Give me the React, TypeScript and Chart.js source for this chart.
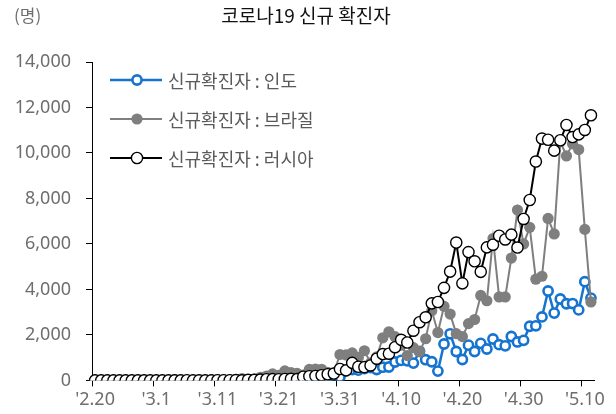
import React, { useEffect, useRef } from 'react';
import { Chart, registerables } from 'chart.js';

Chart.register(...registerables);

const TITLE = '코로나19 신규 확진자';
const UNIT = '(명)';

const DATES = (
  '2.20 2.21 2.22 2.23 2.24 2.25 2.26 2.27 2.28 2.29 ' +
  '3.1 3.2 3.3 3.4 3.5 3.6 3.7 3.8 3.9 3.10 3.11 3.12 3.13 3.14 3.15 3.16 3.17 3.18 3.19 3.20 ' +
  '3.21 3.22 3.23 3.24 3.25 3.26 3.27 3.28 3.29 3.30 3.31 ' +
  '4.1 4.2 4.3 4.4 4.5 4.6 4.7 4.8 4.9 4.10 4.11 4.12 4.13 4.14 4.15 4.16 4.17 4.18 4.19 4.20 ' +
  '4.21 4.22 4.23 4.24 4.25 4.26 4.27 4.28 4.29 4.30 ' +
  '5.1 5.2 5.3 5.4 5.5 5.6 5.7 5.8 5.9 5.10 5.11'
).split(' ');

const SERIES_NAMES = ['신규확진자 : 인도', '신규확진자 : 브라질', '신규확진자 : 러시아'];

const INDIA = [
  0, 0, 0, 0, 0, 0, 0, 0, 0, 0,
  0, 2, 1, 22, 2, 1, 3, 5, 4, 1, 20, 11, 9, 20, 11, 6, 23, 14, 38, 50,
  86, 66, 103, 37, 121, 70, 160, 100, 112, 227, 146,
  430, 480, 450, 520, 560, 480, 580, 590, 810, 880, 860, 760, 1280, 910, 820, 410, 1600, 2050, 1270, 920,
  1550, 1270, 1630, 1380, 1820, 1570, 1520, 1930, 1690, 1760,
  2380, 2400, 2790, 3930, 2960, 3580, 3370, 3380, 3100, 4340, 3620,
];

const BRAZIL = [
  0, 0, 0, 0, 0, 0, 1, 0, 0, 0,
  0, 1, 0, 1, 4, 5, 6, 6, 5, 9, 18, 25, 21, 23, 79, 34, 57, 137, 193, 283,
  224, 418, 345, 310, 232, 482, 502, 487, 352, 323, 1138,
  1119, 1208, 1012, 1304, 770, 1031, 1873, 2136, 1922, 1546, 1089, 1442, 1261, 1832, 3058, 2105, 3257, 2917, 2055, 1927,
  2498, 2678, 3735, 3503, 6240, 3670, 3670, 5380, 7490, 6000,
  6730, 4450, 4580, 7120, 6440, 10500, 9870, 10400, 10150, 6640, 3450,
];

const RUSSIA = [
  0, 0, 0, 0, 0, 0, 0, 0, 0, 0,
  0, 1, 0, 0, 1, 6, 0, 3, 0, 3, 8, 6, 6, 14, 4, 27, 24, 33, 52, 54,
  53, 61, 71, 57, 163, 182, 196, 228, 270, 302, 501,
  440, 771, 601, 582, 658, 954, 1154, 1175, 1459, 1786, 1667, 2186, 2558, 2774, 3388, 3448, 4070, 4785, 6060, 4268,
  5642, 5236, 4774, 5849, 5966, 6361, 6198, 6411, 5841, 7099,
  7933, 9623, 10633, 10581, 10102, 10559, 11231, 10699, 10817, 11012, 11656,
];

const Y_MIN = 0;
const Y_MAX = 14000;
const Y_STEP = 2000;
const X_LABEL_EVERY = 10;

const BLUE = '#1574d0';
const GREY = '#7f7f7f';
const BLACK = '#000000';
const TICK_COLOR = '#6e6e6e';
const FONT_KR = '"Noto Sans CJK KR", "Noto Sans", sans-serif';
const FONT_NUM = '"Noto Sans", "Noto Sans CJK KR", sans-serif';

const overlayPlugin = {
  id: 'overlay',
  afterDraw(chart: any) {
    const ctx = chart.ctx as CanvasRenderingContext2D;
    ctx.save();
    // title
    ctx.fillStyle = '#111111';
    ctx.font = `19px ${FONT_KR}`;
    ctx.textAlign = 'center';
    ctx.textBaseline = 'middle';
    ctx.fillText(TITLE, 306, 16);
    // unit
    ctx.fillStyle = '#6e6e6e';
    ctx.font = `17px ${FONT_KR}`;
    ctx.textAlign = 'left';
    ctx.fillText(UNIT, 14, 16);
    // legend
    const rows = [80, 119, 158];
    chart.data.datasets.forEach((ds: any, i: number) => {
      const y = rows[i];
      ctx.strokeStyle = ds.borderColor;
      ctx.lineWidth = ds.borderWidth;
      ctx.beginPath();
      ctx.moveTo(110, y);
      ctx.lineTo(162, y);
      ctx.stroke();
      ctx.beginPath();
      ctx.arc(137, y, ds.pointRadius, 0, Math.PI * 2);
      ctx.fillStyle = ds.pointBackgroundColor;
      ctx.fill();
      if (ds.pointBorderWidth > 0) {
        ctx.lineWidth = ds.pointBorderWidth;
        ctx.strokeStyle = ds.pointBorderColor;
        ctx.stroke();
      }
      ctx.fillStyle = '#5a5a5a';
      ctx.font = `18px ${FONT_KR}`;
      ctx.textAlign = 'left';
      ctx.textBaseline = 'middle';
      ctx.fillText(ds.label, 168, y + 1);
    });
    ctx.restore();
  },
};

export default function App() {
  const ref = useRef<HTMLCanvasElement>(null);
  useEffect(() => {
    const chart = new Chart(ref.current as HTMLCanvasElement, {
      type: 'line',
      data: {
        labels: DATES,
        datasets: [
          {
            label: SERIES_NAMES[0],
            data: INDIA,
            borderColor: BLUE,
            borderWidth: 2.5,
            pointRadius: 4.6,
            pointBackgroundColor: '#ffffff',
            pointBorderColor: BLUE,
            pointBorderWidth: 2.6,
            order: 3,
          },
          {
            label: SERIES_NAMES[1],
            data: BRAZIL,
            borderColor: GREY,
            borderWidth: 2,
            pointRadius: 5.6,
            pointBackgroundColor: GREY,
            pointBorderColor: GREY,
            pointBorderWidth: 0,
            order: 2,
          },
          {
            label: SERIES_NAMES[2],
            data: RUSSIA,
            borderColor: BLACK,
            borderWidth: 2,
            pointRadius: 5.6,
            pointBackgroundColor: '#ffffff',
            pointBorderColor: BLACK,
            pointBorderWidth: 1.4,
            order: 1,
          },
        ] as any,
      },
      options: {
        animation: false,
        responsive: false,
        maintainAspectRatio: false,
        layout: { padding: { top: 62, right: 22, left: 0, bottom: 0 } },
        plugins: {
          legend: { display: false },
          title: { display: false },
          tooltip: { enabled: false },
        },
        scales: {
          x: {
            type: 'category',
            offset: true,
            grid: {
              offset: true,
              drawOnChartArea: false,
              tickLength: 6,
              tickColor: (c: any) => (c.index % X_LABEL_EVERY === 0 ? '#000' : 'rgba(0,0,0,0)'),
            },
            border: { color: '#000', width: 1 },
            ticks: {
              autoSkip: false,
              maxRotation: 0,
              minRotation: 0,
              padding: 3,
              color: TICK_COLOR,
              font: { family: FONT_NUM, size: 18 },
              callback: (_v: any, i: number) => (i % X_LABEL_EVERY === 0 ? "'" + DATES[i] : ''),
            },
          },
          y: {
            min: Y_MIN,
            max: Y_MAX,
            grid: { drawOnChartArea: false, tickLength: 6, tickColor: '#000' },
            border: { color: '#000', width: 1 },
            ticks: {
              stepSize: Y_STEP,
              padding: 15,
              color: TICK_COLOR,
              font: { family: FONT_NUM, size: 18 },
              callback: (v: any) => Number(v).toLocaleString('en-US'),
            },
            afterFit: (s: any) => {
              s.width = 92;
            },
          },
        } as any,
      },
      plugins: [overlayPlugin],
    });
    return () => chart.destroy();
  }, []);
  return (
    <canvas
      ref={ref}
      width={616}
      height={414}
      style={{ position: 'absolute', left: 0, top: 0, width: 616, height: 414 }}
    />
  );
}
